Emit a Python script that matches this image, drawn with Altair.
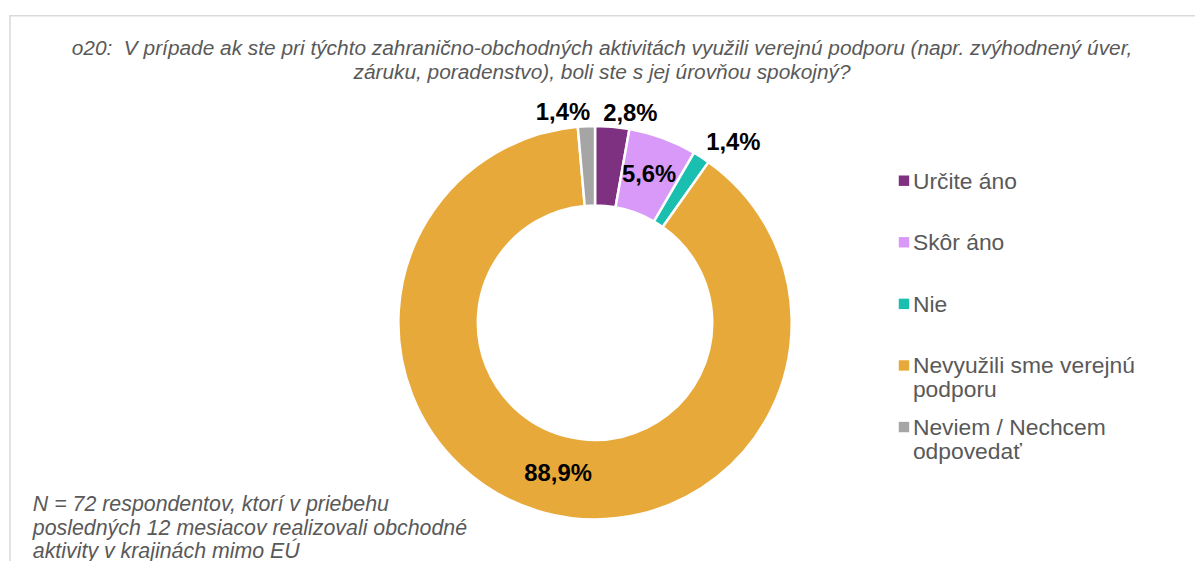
import math
import altair as alt
import pandas as pd

# ---- data ----
categories = ["Určite áno", "Skôr áno", "Nie", "Nevyužili sme verejnú podporu", "Neviem / Nechcem odpovedať"]
values = [2.8, 5.6, 1.4, 88.9, 1.4]
value_labels = ["2,8%", "5,6%", "1,4%", "88,9%", "1,4%"]
legend_labels = ["Určite áno", "Skôr áno", "Nie", "Nevyužili sme verejnú\npodporu", "Neviem / Nechcem\nodpovedať"]
colors = ["#7F3181", "#D899F9", "#1ABFB0", "#E8A93B", "#A5A5A5"]

subtitle = ("o20:\u00a0 V prípade ak ste pri týchto zahranično-obchodných aktivitách využili verejnú podporu (napr. zvýhodnený úver,\n"
            "záruku, poradenstvo), boli ste s jej úrovňou spokojný?")
footnote = ("N = 72 respondentov, ktorí v priebehu\n"
            "posledných 12 mesiacov realizovali obchodné\n"
            "aktivity v krajinách mimo EÚ")

# ---- styling / layout ----
W, H = 1195, 553
CX, CY = 591, 315
R_IN, R_OUT = 118, 198
FONT = "Liberation Sans"
GRAY = "#595959"
# label placement per category: (radius, dx)
LABEL_STYLE = {
    "Určite áno": (211, 17),
    "Skôr áno": (158, 0),
    "Nie": (215, 23),
    "Nevyužili sme verejnú podporu": (158, 4),
    "Neviem / Nechcem odpovedať": (211, -23),
}

total = sum(values)
df = pd.DataFrame({"cat": categories, "val": values, "lab": value_labels,
                   "leg": legend_labels, "ord": list(range(len(categories)))})

color_scale = alt.Scale(domain=categories, range=colors)
theta_scale = alt.Scale(domain=[0, total], range=[0, 2 * math.pi])

border = alt.Chart(pd.DataFrame({"a": [0]})).mark_rect(
    fillOpacity=0, stroke="#D9D9D9", strokeWidth=1.5
).encode(x=alt.value(2), x2=alt.value(1400), y=alt.value(6), y2=alt.value(800))

arc = alt.Chart(df).mark_arc(
    innerRadius=R_IN, outerRadius=R_OUT, stroke="white", strokeWidth=2.5
).encode(
    theta=alt.Theta("val:Q", stack=True, scale=theta_scale),
    color=alt.Color("cat:N", scale=color_scale, legend=None),
    order=alt.Order("ord:Q"),
    x=alt.value(CX), y=alt.value(CY),
)

lab_base = alt.Chart(df).transform_window(
    cum="sum(val)", sort=[alt.SortField("ord")], frame=[None, 0]
).transform_calculate(mid="datum.cum - datum.val / 2")

label_layers = []
for cat in categories:
    r, dx = LABEL_STYLE[cat]
    label_layers.append(
        lab_base.transform_filter(alt.datum.cat == cat).mark_text(
            radius=r, dx=dx, font=FONT, fontSize=24, fontWeight="bold",
            color="black", align="center", baseline="middle"
        ).encode(
            theta=alt.Theta("mid:Q", scale=theta_scale, stack=None),
            text="lab:N",
            x=alt.value(CX), y=alt.value(CY),
        )
    )

leg_y = alt.Y("cat:N", scale=alt.Scale(domain=categories, range=[172, 420], type="point", padding=0), axis=None)
leg_sq = alt.Chart(df).mark_square(size=110, opacity=1).encode(
    x=alt.value(902), y=leg_y,
    color=alt.Color("cat:N", scale=color_scale, legend=None),
)
leg_tx = alt.Chart(df).mark_text(
    align="left", baseline="alphabetic", dy=8, font=FONT, fontSize=23,
    color=GRAY, lineBreak="\n", lineHeight=24
).encode(x=alt.value(911), y=leg_y, text="leg:N")

sub = alt.Chart(pd.DataFrame({"t": [subtitle]})).mark_text(
    align="center", baseline="alphabetic", font=FONT, fontSize=21, fontStyle="italic",
    color=GRAY, lineBreak="\n", lineHeight=25
).encode(x=alt.value(598), y=alt.value(45), text="t:N")

foot = alt.Chart(pd.DataFrame({"t": [footnote]})).mark_text(
    align="left", baseline="alphabetic", font=FONT, fontSize=21.5, fontStyle="italic",
    color=GRAY, lineBreak="\n", lineHeight=23.5
).encode(x=alt.value(25), y=alt.value(505), text="t:N")

chart = alt.layer(border, arc, *label_layers, leg_sq, leg_tx, sub, foot).properties(
    width=W, height=H, autosize=alt.AutoSizeParams(type="none"), padding=0,
    background="white"
).configure_view(stroke=None)

chart.save("out.html", embed_options={"renderer": "svg", "actions": False})
